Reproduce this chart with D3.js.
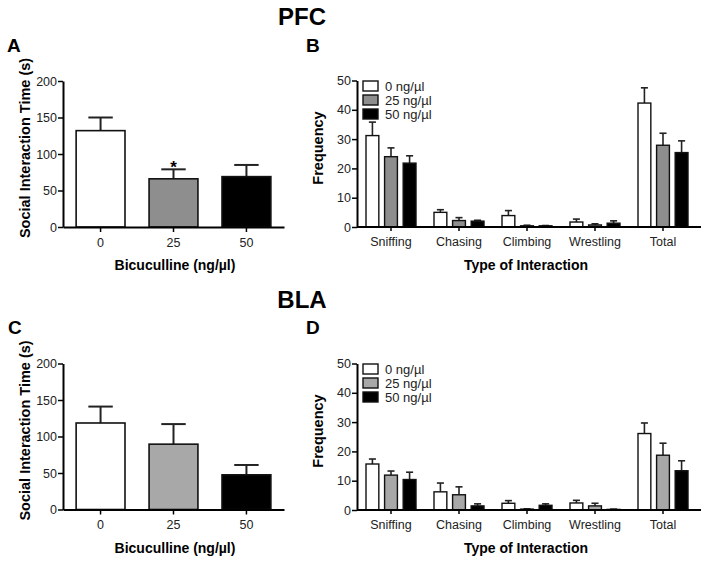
<!DOCTYPE html>
<html>
<head>
<meta charset="utf-8">
<script src="https://cdn.jsdelivr.net/npm/d3@7/dist/d3.min.js"></script>
<style>
  body { margin: 0; background: #fff; }
  svg { font-family: "Liberation Sans", Arial, Helvetica, sans-serif; }
</style>
</head>
<body>
<svg id="fig" width="704" height="564"></svg>
<script>
// doses / categories
const doseLabels = ["0", "25", "50"];
const legendLabels = ["0 ng/\u00b5l", "25 ng/\u00b5l", "50 ng/\u00b5l"];
const interactionTypes = ["Sniffing", "Chasing", "Climbing", "Wrestling", "Total"];
const timeTicks = [0, 50, 100, 150, 200];
const freqTicks = [0, 10, 20, 30, 40, 50];

// PFC social interaction time (s), mean and SEM per dose
const pfcTimeMean = [132, 66, 69];
const pfcTimeSem = [18, 13, 16];
// BLA social interaction time (s)
const blaTimeMean = [118.5, 89.5, 47.5];
const blaTimeSem = [22.5, 27.5, 13.5];

// frequency per dose (rows) and interaction type (cols)
const pfcFreqMean = [
  [31.2, 5.0, 3.9, 1.7, 42.3],
  [24.0, 2.2, 0.4, 0.7, 27.9],
  [21.8, 2.0, 0.4, 1.3, 25.4]
];
const pfcFreqSem = [
  [4.6, 0.9, 1.7, 1.0, 5.2],
  [3.0, 1.0, 0.2, 0.4, 4.1],
  [2.5, 0.3, 0.1, 0.8, 4.0]
];
const blaFreqMean = [
  [15.7, 6.2, 2.3, 2.4, 26.1],
  [11.9, 5.2, 0.3, 1.4, 18.7],
  [10.4, 1.4, 1.6, 0.2, 13.4]
];
const blaFreqSem = [
  [1.7, 3.0, 0.9, 0.9, 3.6],
  [1.4, 2.7, 0.1, 0.9, 4.1],
  [2.5, 0.7, 0.5, 0.1, 3.4]
];

const svg = d3.select("#fig");

function styleAxis(g) {
  g.selectAll(".domain").attr("stroke", "#000").attr("stroke-width", 2);
  g.selectAll(".tick line").attr("stroke", "#000").attr("stroke-width", 1.5);
  g.selectAll(".tick text").attr("fill", "#222").style("font-size", "12.5px");
}

function yAxisTitle(x, yMid, text) {
  svg.append("text")
    .attr("transform", `translate(${x},${yMid}) rotate(-90)`)
    .attr("text-anchor", "middle")
    .style("font-weight", "bold").style("font-size", "14.5px")
    .text(text);
}

function drawTimePanel(y0, mean, sem, fills, star) {
  const x = d3.scaleBand().domain(doseLabels).range([63, 284])
    .paddingInner(0.33).paddingOuter(0.18);
  const y = d3.scaleLinear().domain([0, 200]).range([y0, y0 - 146]);
  const g = svg.append("g");

  // error bars (upper only)
  const capW = x.bandwidth() * 0.5;
  doseLabels.forEach((d, i) => {
    const cx = x(d) + x.bandwidth() / 2;
    g.append("line").attr("x1", cx).attr("x2", cx)
      .attr("y1", y(mean[i])).attr("y2", y(mean[i] + sem[i]))
      .attr("stroke", "#222").attr("stroke-width", 2);
    g.append("line").attr("x1", cx - capW / 2).attr("x2", cx + capW / 2)
      .attr("y1", y(mean[i] + sem[i])).attr("y2", y(mean[i] + sem[i]))
      .attr("stroke", "#222").attr("stroke-width", 2);
  });

  g.selectAll("rect").data(mean).join("rect")
    .attr("x", (d, i) => x(doseLabels[i]))
    .attr("width", x.bandwidth())
    .attr("y", d => y(d))
    .attr("height", d => y(0) - y(d))
    .attr("fill", (d, i) => fills[i])
    .attr("stroke", "#111").attr("stroke-width", 1.6);

  if (star != null) {
    const cx = x(doseLabels[star]) + x.bandwidth() / 2;
    g.append("text").attr("x", cx).attr("y", y(mean[star] + sem[star]) + 4)
      .attr("text-anchor", "middle")
      .style("font-weight", "bold").style("font-size", "17px").text("*");
  }

  const ya = svg.append("g").attr("transform", "translate(63,0)")
    .call(d3.axisLeft(y).tickValues(timeTicks).tickSize(5).tickSizeOuter(0).tickPadding(1));
  styleAxis(ya);
  const xa = svg.append("g").attr("transform", `translate(0,${y0})`)
    .call(d3.axisBottom(x).tickSize(5).tickSizeOuter(0).tickPadding(6));
  styleAxis(xa);

  yAxisTitle(30, y0 - 79, "Social Interaction Time (s)");
  svg.append("text").attr("x", 175).attr("y", y0 + 43)
    .attr("text-anchor", "middle")
    .style("font-weight", "bold").style("font-size", "14px")
    .text("Bicuculline (ng/\u00b5l)");
}

function drawFreqPanel(y0, mean, sem, fills) {
  const x = d3.scaleBand().domain(interactionTypes).range([357, 697]);
  const xSub = d3.scaleBand().domain(doseLabels).range([-25, 25]).paddingInner(0.31);
  const y = d3.scaleLinear().domain([0, 50]).range([y0, y0 - 146.5]);
  const g = svg.append("g");
  const capW = xSub.bandwidth() * 0.55;

  doseLabels.forEach((dose, di) => {
    interactionTypes.forEach((t, ti) => {
      const v = mean[di][ti], e = sem[di][ti];
      const cx = x(t) + x.bandwidth() / 2 + xSub(dose) + xSub.bandwidth() / 2;
      g.append("line").attr("x1", cx).attr("x2", cx)
        .attr("y1", y(v)).attr("y2", y(v + e))
        .attr("stroke", "#222").attr("stroke-width", 1.6);
      g.append("line").attr("x1", cx - capW / 2).attr("x2", cx + capW / 2)
        .attr("y1", y(v + e)).attr("y2", y(v + e))
        .attr("stroke", "#222").attr("stroke-width", 1.6);
    });
    g.selectAll(null).data(mean[di]).join("rect")
      .attr("x", (d, ti) => x(interactionTypes[ti]) + x.bandwidth() / 2 + xSub(dose))
      .attr("width", xSub.bandwidth())
      .attr("y", d => y(d))
      .attr("height", d => y(0) - y(d))
      .attr("fill", fills[di])
      .attr("stroke", "#111").attr("stroke-width", 1.4);
  });

  const ya = svg.append("g").attr("transform", "translate(357,0)")
    .call(d3.axisLeft(y).tickValues(freqTicks).tickSize(5).tickSizeOuter(0).tickPadding(1));
  styleAxis(ya);
  const xa = svg.append("g").attr("transform", `translate(0,${y0})`)
    .call(d3.axisBottom(x).tickSize(4).tickSizeOuter(0).tickPadding(6));
  styleAxis(xa);
  xa.select(".domain").attr("d", `M357,0H701`);

  // legend
  const lg = svg.append("g").attr("transform", `translate(363,${y0 - 146})`);
  legendLabels.forEach((lab, i) => {
    lg.append("rect").attr("x", 0).attr("y", i * 14).attr("width", 15).attr("height", 10)
      .attr("fill", fills[i]).attr("stroke", "#111").attr("stroke-width", 1.4);
    lg.append("text").attr("x", 22).attr("y", i * 14 + 10)
      .style("font-size", "13px").attr("fill", "#222").text(lab);
  });

  yAxisTitle(323, y0 - 79, "Frequency");
  svg.append("text").attr("x", 526).attr("y", y0 + 43)
    .attr("text-anchor", "middle")
    .style("font-weight", "bold").style("font-size", "14px")
    .text("Type of Interaction");
}

function label(x, y, text, size, anchor) {
  svg.append("text").attr("x", x).attr("y", y)
    .attr("text-anchor", anchor || "start")
    .style("font-weight", "bold").style("font-size", size + "px")
    .text(text);
}

label(302, 25, "PFC", 24, "middle");
label(302, 308, "BLA", 24, "middle");
label(7, 52, "A", 19);
label(306, 52, "B", 19);
label(8, 334, "C", 19);
label(306, 334, "D", 19);

drawTimePanel(227, pfcTimeMean, pfcTimeSem, ["#fff", "#8e8e8e", "#000"], 1);
drawFreqPanel(227, pfcFreqMean, pfcFreqSem, ["#fff", "#8e8e8e", "#000"]);
drawTimePanel(509.5, blaTimeMean, blaTimeSem, ["#fff", "#a8a8a8", "#000"], null);
drawFreqPanel(510, blaFreqMean, blaFreqSem, ["#fff", "#a8a8a8", "#000"]);
</script>
</body>
</html>
